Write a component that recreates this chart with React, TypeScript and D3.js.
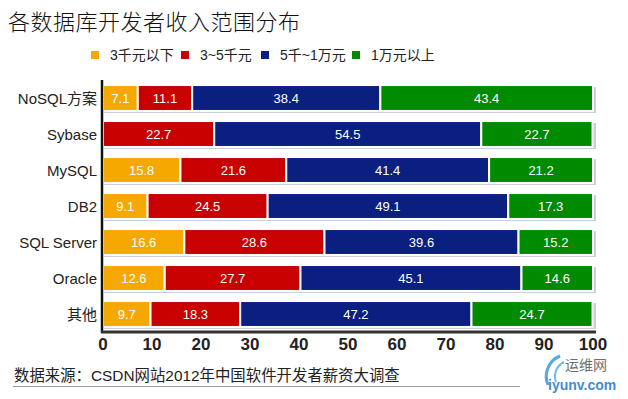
import React from 'react';
import * as d3 from 'd3';

// categories top -> bottom
const categories = ['NoSQL方案', 'Sybase', 'MySQL', 'DB2', 'SQL Server', 'Oracle', '其他'];
const seriesNames = ['3千元以下', '3~5千元', '5千~1万元', '1万元以上'];
const seriesColors = ['#f5a800', '#c80000', '#0a1f80', '#008a00'];

const under3k = [7.1, 0, 15.8, 9.1, 16.6, 12.6, 9.7];
const from3to5k = [11.1, 22.7, 21.6, 24.5, 28.6, 27.7, 18.3];
const from5kto10k = [38.4, 54.5, 41.4, 49.1, 39.6, 45.1, 47.2];
const over10k = [43.4, 22.7, 21.2, 17.3, 15.2, 14.6, 24.7];

const xTicks = [0, 10, 20, 30, 40, 50, 60, 70, 80, 90, 100];

const W = 628;
const H = 399;

const App = () => {
  const margin = { left: 103, right: 35, top: 80, bottom: 67 };

  const x = d3.scaleLinear().domain([0, 100]).range([margin.left, W - margin.right]);
  const y = d3.scaleBand().domain(categories).range([margin.top, H - margin.bottom]).paddingInner(0.28).paddingOuter(0.14);

  const rows = categories.map((c, i) => ({
    cat: c,
    vals: [under3k[i], from3to5k[i], from5kto10k[i], over10k[i]],
  }));

  const stack = d3.stack<any>().keys(['0', '1', '2', '3']).value((d, k) => d.vals[+k]);
  const layers = stack(rows);

  const font = 'Liberation Sans, Arial, "Noto Sans CJK SC", sans-serif';
  const axisY = H - margin.bottom;

  // legend positions
  const legendX = [91, 181, 261, 352];

  return (
    <svg width={W} height={H} style={{ position: 'absolute', left: 0, top: 0, background: '#fff' }} fontFamily={font}>
      <text x={8} y={30} fontSize={22} fill="#111" fontFamily='"Noto Sans CJK SC", sans-serif' fontWeight={300} letterSpacing={0.5}>
        各数据库开发者收入范围分布
      </text>

      {seriesNames.map((s, i) => (
        <g key={s} transform={`translate(${legendX[i]},55)`}>
          <rect x={0} y={-4} width={8} height={8} fill={seriesColors[i]} />
          <text x={19} y={5} fontSize={14} fill="#222">{s}</text>
        </g>
      ))}

      {/* row shadows */}
      {categories.map(c => (
        <rect key={c} x={x(0) + 1} y={(y(c) ?? 0) + 2} width={x(100) - x(0) + 2} height={y.bandwidth()} fill="#c9ced8" />
      ))}

      {layers.map((layer, si) => (
        <g key={si}>
          {layer.map((d, ri) => {
            const v = d[1] - d[0];
            if (v <= 0) return null;
            const x0 = x(d[0]);
            const x1 = x(d[1]);
            const yy = y(categories[ri]) ?? 0;
            return (
              <g key={ri}>
                <rect x={x0} y={yy} width={x1 - x0} height={y.bandwidth()} fill={seriesColors[si]} stroke="#fff" strokeWidth={2} />
                <text x={(x0 + x1) / 2} y={yy + y.bandwidth() / 2 + 4.5} textAnchor="middle" fontSize={13} fill="#fff">
                  {v.toFixed(1)}
                </text>
              </g>
            );
          })}
        </g>
      ))}

      {/* axes */}
      <line x1={margin.left - 1} x2={margin.left - 1} y1={margin.top} y2={axisY + 1} stroke="#111" strokeWidth={2.5} />
      <line x1={margin.left - 2} x2={x(100) + 3} y1={axisY} y2={axisY} stroke="#333" strokeWidth={3} />

      {categories.map(c => (
        <text key={c} x={97} y={(y(c) ?? 0) + y.bandwidth() / 2 + 5.5} textAnchor="end" fontSize={15} fill="#222">
          {c}
        </text>
      ))}

      {xTicks.map(t => (
        <text key={t} x={x(t)} y={axisY + 18} textAnchor="middle" fontSize={17} fontWeight="bold" fill="#222">
          {t}
        </text>
      ))}

      <text x={14} y={381} fontSize={15.4} fill="#222">数据来源：CSDN网站2012年中国软件开发者薪资大调查</text>
      <line x1={13} x2={520} y1={386.5} y2={386.5} stroke="#999" strokeWidth={1} />

      {/* watermark */}
      <g opacity={0.85}>
        <path d="M 548 385 A 22 22 0 0 1 560 356" fill="none" stroke="#3a9ad9" strokeWidth={3} />
        <path d="M 556 382 A 16 16 0 0 1 564 362" fill="none" stroke="#5ab0e6" strokeWidth={2} />
        <text x={565} y={370} fontSize={14} fill="#555" fontFamily='"Noto Sans CJK SC", sans-serif'>运维网</text>
        <text x={548} y={390} fontSize={14} fontWeight="bold" fill="#1f78c8">iyunv.com</text>
      </g>
    </svg>
  );
};

export default App;
